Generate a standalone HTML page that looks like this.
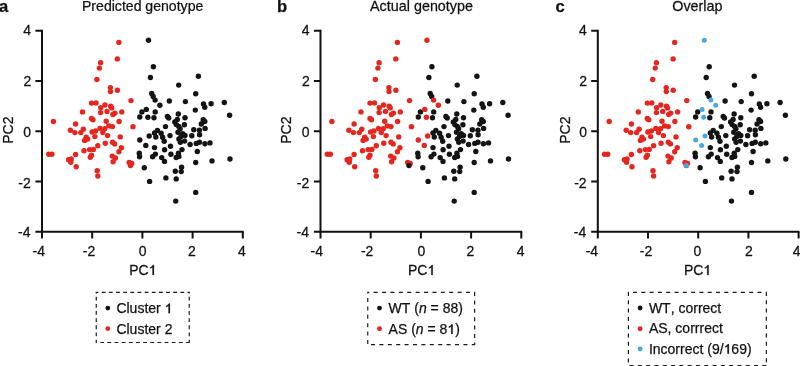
<!DOCTYPE html>
<html><head><meta charset="utf-8"><style>
html,body{margin:0;padding:0;background:#fff;}
body{width:800px;height:366px;overflow:hidden;}
svg{display:block;will-change:transform;}
svg g{font-family:"Liberation Sans",sans-serif;font-size:14px;fill:#111;font-kerning:none;}
text{font-kerning:none;stroke:#111;stroke-width:0.25px;}
</style></head><body>
<svg width="800" height="366" viewBox="0 0 800 366">
<path d="M42.00 29.82V231.68M41.00 231.68H243.70" stroke="#111" stroke-width="2" fill="none"/><path d="M42.00 231.68v6.8M42.00 231.68h-6.6M92.20 231.68v6.8M42.00 181.44h-6.6M142.40 231.68v6.8M42.00 131.20h-6.6M192.60 231.68v6.8M42.00 80.96h-6.6M242.80 231.68v6.8M42.00 30.72h-6.6" stroke="#111" stroke-width="2" fill="none"/><g transform="translate(38.85 255.80) scale(1.0000 1.03)"><text x="-6.33" y="0">-4</text></g><g transform="translate(30.10 237.40) scale(1.0000 1.03)"><text x="-12.04" y="0">-4</text></g><g transform="translate(89.00 255.80) scale(1.0000 1.03)"><text x="-6.18" y="0">-2</text></g><g transform="translate(30.10 187.70) scale(1.0000 1.03)"><text x="-11.74" y="0">-2</text></g><g transform="translate(142.70 255.80) scale(1.0000 1.03)"><text x="-3.89" y="0">0</text></g><g transform="translate(30.60 137.30) scale(1.0000 1.03)"><text x="-7.24" y="0">0</text></g><g transform="translate(192.00 255.80) scale(1.0000 1.03)"><text x="-3.89" y="0">2</text></g><g transform="translate(30.60 85.50) scale(1.0000 1.03)"><text x="-7.08" y="0">2</text></g><g transform="translate(241.90 255.80) scale(1.0000 1.03)"><text x="-3.85" y="0">4</text></g><g transform="translate(30.60 35.40) scale(1.0000 1.03)"><text x="-7.38" y="0">4</text></g><g transform="translate(142.10 274.90) scale(1.0000 1.03)"><text x="-12.91" y="0">PC</text><path transform="translate(6.54 0) scale(0.006836 -0.006570)" stroke="#111" stroke-width="36" d="M775 0L565 0L565 1140Q500 1080 400 1020Q300 960 215 925L215 1105Q365 1175 478 1276Q591 1377 638 1466L775 1466Z"/></g><g transform="translate(13.45 129.90) rotate(-90) scale(1.0000 1.03)"><text x="-13.84" y="0">PC2</text></g><g transform="translate(142.97 10.90) scale(1.0070 1.0)"><text x="-60.58" y="0">Predicted&#160;genotype</text></g><g transform="translate(-1.00 11.80) scale(1.0000 1.0)" style="font-size:16.6px"><text x="0.00" y="0" font-weight="bold">a</text></g><circle cx="118.9" cy="42.4" r="2.7" fill="#e4261f"/><circle cx="117.3" cy="58.9" r="2.7" fill="#e4261f"/><circle cx="100.6" cy="62.7" r="2.7" fill="#e4261f"/><circle cx="99.4" cy="68.1" r="2.7" fill="#e4261f"/><circle cx="96.9" cy="79.5" r="2.7" fill="#e4261f"/><circle cx="110.4" cy="87.6" r="2.7" fill="#e4261f"/><circle cx="110.5" cy="91.6" r="2.7" fill="#e4261f"/><circle cx="117.4" cy="90.3" r="2.7" fill="#e4261f"/><circle cx="131.0" cy="100.6" r="2.7" fill="#e4261f"/><circle cx="91.5" cy="103.1" r="2.7" fill="#e4261f"/><circle cx="96.0" cy="102.9" r="2.7" fill="#e4261f"/><circle cx="105.0" cy="105.0" r="2.7" fill="#e4261f"/><circle cx="100.8" cy="107.7" r="2.7" fill="#e4261f"/><circle cx="110.7" cy="106.3" r="2.7" fill="#e4261f"/><circle cx="111.7" cy="107.9" r="2.7" fill="#e4261f"/><circle cx="82.5" cy="111.9" r="2.7" fill="#e4261f"/><circle cx="100.6" cy="112.6" r="2.7" fill="#e4261f"/><circle cx="107.0" cy="111.4" r="2.7" fill="#e4261f"/><circle cx="114.9" cy="113.1" r="2.7" fill="#e4261f"/><circle cx="112.9" cy="114.5" r="2.7" fill="#e4261f"/><circle cx="121.8" cy="111.9" r="2.7" fill="#e4261f"/><circle cx="53.4" cy="121.5" r="2.7" fill="#e4261f"/><circle cx="91.5" cy="118.4" r="2.7" fill="#e4261f"/><circle cx="93.0" cy="119.7" r="2.7" fill="#e4261f"/><circle cx="106.2" cy="121.3" r="2.7" fill="#e4261f"/><circle cx="119.1" cy="121.5" r="2.7" fill="#e4261f"/><circle cx="75.6" cy="124.0" r="2.7" fill="#e4261f"/><circle cx="133.0" cy="126.8" r="2.7" fill="#e4261f"/><circle cx="108.8" cy="125.9" r="2.7" fill="#e4261f"/><circle cx="112.5" cy="126.6" r="2.7" fill="#e4261f"/><circle cx="100.0" cy="128.4" r="2.7" fill="#e4261f"/><circle cx="104.7" cy="128.8" r="2.7" fill="#e4261f"/><circle cx="102.8" cy="132.6" r="2.7" fill="#e4261f"/><circle cx="70.4" cy="130.3" r="2.7" fill="#e4261f"/><circle cx="74.9" cy="132.6" r="2.7" fill="#e4261f"/><circle cx="83.3" cy="129.3" r="2.7" fill="#e4261f"/><circle cx="80.8" cy="132.6" r="2.7" fill="#e4261f"/><circle cx="92.1" cy="132.0" r="2.7" fill="#e4261f"/><circle cx="95.5" cy="131.0" r="2.7" fill="#e4261f"/><circle cx="94.9" cy="136.6" r="2.7" fill="#e4261f"/><circle cx="107.6" cy="135.6" r="2.7" fill="#e4261f"/><circle cx="120.2" cy="136.9" r="2.7" fill="#e4261f"/><circle cx="86.2" cy="137.2" r="2.7" fill="#e4261f"/><circle cx="87.7" cy="139.1" r="2.7" fill="#e4261f"/><circle cx="84.6" cy="140.4" r="2.7" fill="#e4261f"/><circle cx="97.8" cy="145.7" r="2.7" fill="#e4261f"/><circle cx="105.3" cy="143.3" r="2.7" fill="#e4261f"/><circle cx="112.5" cy="142.3" r="2.7" fill="#e4261f"/><circle cx="114.7" cy="143.9" r="2.7" fill="#e4261f"/><circle cx="121.4" cy="147.7" r="2.7" fill="#e4261f"/><circle cx="118.9" cy="151.7" r="2.7" fill="#e4261f"/><circle cx="84.0" cy="150.7" r="2.7" fill="#e4261f"/><circle cx="89.6" cy="149.6" r="2.7" fill="#e4261f"/><circle cx="93.4" cy="149.4" r="2.7" fill="#e4261f"/><circle cx="48.8" cy="154.2" r="2.7" fill="#e4261f"/><circle cx="51.9" cy="154.2" r="2.7" fill="#e4261f"/><circle cx="75.6" cy="154.5" r="2.7" fill="#e4261f"/><circle cx="91.5" cy="155.2" r="2.7" fill="#e4261f"/><circle cx="90.3" cy="157.3" r="2.7" fill="#e4261f"/><circle cx="112.2" cy="156.1" r="2.7" fill="#e4261f"/><circle cx="115.4" cy="158.0" r="2.7" fill="#e4261f"/><circle cx="68.6" cy="159.7" r="2.7" fill="#e4261f"/><circle cx="71.2" cy="159.0" r="2.7" fill="#e4261f"/><circle cx="70.8" cy="162.2" r="2.7" fill="#e4261f"/><circle cx="76.2" cy="166.8" r="2.7" fill="#e4261f"/><circle cx="97.2" cy="170.7" r="2.7" fill="#e4261f"/><circle cx="97.8" cy="176.0" r="2.7" fill="#e4261f"/><circle cx="113.1" cy="161.8" r="2.7" fill="#e4261f"/><circle cx="129.2" cy="162.5" r="2.7" fill="#e4261f"/><circle cx="131.7" cy="163.4" r="2.7" fill="#e4261f"/><circle cx="130.5" cy="165.6" r="2.7" fill="#e4261f"/><circle cx="153.4" cy="66.7" r="2.7" fill="#141414"/><circle cx="150.4" cy="77.5" r="2.7" fill="#141414"/><circle cx="198.4" cy="76.3" r="2.7" fill="#141414"/><circle cx="178.7" cy="85.1" r="2.7" fill="#141414"/><circle cx="195.7" cy="93.7" r="2.7" fill="#141414"/><circle cx="151.7" cy="93.5" r="2.7" fill="#141414"/><circle cx="153.2" cy="96.4" r="2.7" fill="#141414"/><circle cx="169.3" cy="101.0" r="2.7" fill="#141414"/><circle cx="185.4" cy="101.6" r="2.7" fill="#141414"/><circle cx="203.5" cy="103.9" r="2.7" fill="#141414"/><circle cx="204.8" cy="107.3" r="2.7" fill="#141414"/><circle cx="211.1" cy="103.8" r="2.7" fill="#141414"/><circle cx="224.3" cy="102.5" r="2.7" fill="#141414"/><circle cx="141.9" cy="111.9" r="2.7" fill="#141414"/><circle cx="155.2" cy="111.9" r="2.7" fill="#141414"/><circle cx="195.3" cy="110.1" r="2.7" fill="#141414"/><circle cx="178.3" cy="114.0" r="2.7" fill="#141414"/><circle cx="229.6" cy="115.2" r="2.7" fill="#141414"/><circle cx="139.8" cy="117.0" r="2.7" fill="#141414"/><circle cx="154.0" cy="117.7" r="2.7" fill="#141414"/><circle cx="167.4" cy="116.5" r="2.7" fill="#141414"/><circle cx="168.7" cy="118.0" r="2.7" fill="#141414"/><circle cx="185.0" cy="117.7" r="2.7" fill="#141414"/><circle cx="203.2" cy="119.7" r="2.7" fill="#141414"/><circle cx="204.8" cy="121.5" r="2.7" fill="#141414"/><circle cx="201.3" cy="124.0" r="2.7" fill="#141414"/><circle cx="177.3" cy="119.5" r="2.7" fill="#141414"/><circle cx="174.8" cy="122.0" r="2.7" fill="#141414"/><circle cx="176.3" cy="124.6" r="2.7" fill="#141414"/><circle cx="178.8" cy="126.5" r="2.7" fill="#141414"/><circle cx="180.1" cy="128.8" r="2.7" fill="#141414"/><circle cx="184.4" cy="124.7" r="2.7" fill="#141414"/><circle cx="165.5" cy="126.6" r="2.7" fill="#141414"/><circle cx="193.8" cy="129.7" r="2.7" fill="#141414"/><circle cx="199.4" cy="130.2" r="2.7" fill="#141414"/><circle cx="205.1" cy="128.4" r="2.7" fill="#141414"/><circle cx="157.4" cy="130.4" r="2.7" fill="#141414"/><circle cx="154.5" cy="132.9" r="2.7" fill="#141414"/><circle cx="161.1" cy="133.2" r="2.7" fill="#141414"/><circle cx="155.8" cy="137.0" r="2.7" fill="#141414"/><circle cx="162.6" cy="137.3" r="2.7" fill="#141414"/><circle cx="170.0" cy="135.6" r="2.7" fill="#141414"/><circle cx="178.0" cy="132.2" r="2.7" fill="#141414"/><circle cx="182.7" cy="133.6" r="2.7" fill="#141414"/><circle cx="185.0" cy="135.5" r="2.7" fill="#141414"/><circle cx="181.0" cy="136.4" r="2.7" fill="#141414"/><circle cx="191.8" cy="135.7" r="2.7" fill="#141414"/><circle cx="199.6" cy="134.8" r="2.7" fill="#141414"/><circle cx="164.2" cy="141.3" r="2.7" fill="#141414"/><circle cx="178.9" cy="139.0" r="2.7" fill="#141414"/><circle cx="180.3" cy="142.3" r="2.7" fill="#141414"/><circle cx="184.6" cy="141.1" r="2.7" fill="#141414"/><circle cx="190.1" cy="144.5" r="2.7" fill="#141414"/><circle cx="196.3" cy="143.4" r="2.7" fill="#141414"/><circle cx="199.5" cy="142.2" r="2.7" fill="#141414"/><circle cx="204.9" cy="143.7" r="2.7" fill="#141414"/><circle cx="210.0" cy="142.9" r="2.7" fill="#141414"/><circle cx="154.5" cy="147.6" r="2.7" fill="#141414"/><circle cx="170.5" cy="146.2" r="2.7" fill="#141414"/><circle cx="164.6" cy="149.8" r="2.7" fill="#141414"/><circle cx="182.0" cy="149.6" r="2.7" fill="#141414"/><circle cx="197.3" cy="151.5" r="2.7" fill="#141414"/><circle cx="139.3" cy="153.3" r="2.7" fill="#141414"/><circle cx="139.6" cy="156.8" r="2.7" fill="#141414"/><circle cx="155.4" cy="154.1" r="2.7" fill="#141414"/><circle cx="152.6" cy="156.7" r="2.7" fill="#141414"/><circle cx="170.9" cy="154.2" r="2.7" fill="#141414"/><circle cx="178.4" cy="153.3" r="2.7" fill="#141414"/><circle cx="178.9" cy="156.4" r="2.7" fill="#141414"/><circle cx="176.2" cy="157.5" r="2.7" fill="#141414"/><circle cx="161.7" cy="157.6" r="2.7" fill="#141414"/><circle cx="212.0" cy="160.9" r="2.7" fill="#141414"/><circle cx="230.0" cy="159.0" r="2.7" fill="#141414"/><circle cx="164.5" cy="161.4" r="2.7" fill="#141414"/><circle cx="195.7" cy="162.5" r="2.7" fill="#141414"/><circle cx="144.3" cy="167.7" r="2.7" fill="#141414"/><circle cx="181.6" cy="167.3" r="2.7" fill="#141414"/><circle cx="181.2" cy="171.6" r="2.7" fill="#141414"/><circle cx="175.3" cy="171.2" r="2.7" fill="#141414"/><circle cx="165.9" cy="177.9" r="2.7" fill="#141414"/><circle cx="176.2" cy="178.9" r="2.7" fill="#141414"/><circle cx="149.6" cy="181.4" r="2.7" fill="#141414"/><circle cx="195.7" cy="192.4" r="2.7" fill="#141414"/><circle cx="175.7" cy="201.1" r="2.7" fill="#141414"/><circle cx="148.5" cy="40.3" r="2.7" fill="#141414"/><circle cx="155.1" cy="100.1" r="2.7" fill="#141414"/><circle cx="159.9" cy="105.2" r="2.7" fill="#141414"/><circle cx="146.3" cy="109.4" r="2.7" fill="#141414"/><circle cx="147.9" cy="117.3" r="2.7" fill="#141414"/><circle cx="149.2" cy="136.0" r="2.7" fill="#141414"/><circle cx="139.8" cy="140.0" r="2.7" fill="#141414"/><circle cx="145.8" cy="145.4" r="2.7" fill="#141414"/><path d="M320.50 29.82V231.68M319.50 231.68H522.20" stroke="#111" stroke-width="2" fill="none"/><path d="M320.50 231.68v6.8M320.50 231.68h-6.6M370.70 231.68v6.8M320.50 181.44h-6.6M420.90 231.68v6.8M320.50 131.20h-6.6M471.10 231.68v6.8M320.50 80.96h-6.6M521.30 231.68v6.8M320.50 30.72h-6.6" stroke="#111" stroke-width="2" fill="none"/><g transform="translate(316.80 255.80) scale(1.0000 1.03)"><text x="-6.33" y="0">-4</text></g><g transform="translate(308.60 237.40) scale(1.0000 1.03)"><text x="-12.04" y="0">-4</text></g><g transform="translate(367.10 255.80) scale(1.0000 1.03)"><text x="-6.18" y="0">-2</text></g><g transform="translate(308.60 187.70) scale(1.0000 1.03)"><text x="-11.74" y="0">-2</text></g><g transform="translate(421.30 255.80) scale(1.0000 1.03)"><text x="-3.89" y="0">0</text></g><g transform="translate(309.10 137.30) scale(1.0000 1.03)"><text x="-7.24" y="0">0</text></g><g transform="translate(470.40 255.80) scale(1.0000 1.03)"><text x="-3.89" y="0">2</text></g><g transform="translate(309.10 85.50) scale(1.0000 1.03)"><text x="-7.08" y="0">2</text></g><g transform="translate(520.50 255.80) scale(1.0000 1.03)"><text x="-3.85" y="0">4</text></g><g transform="translate(309.10 35.40) scale(1.0000 1.03)"><text x="-7.38" y="0">4</text></g><g transform="translate(420.90 274.90) scale(1.0000 1.03)"><text x="-12.91" y="0">PC</text><path transform="translate(6.54 0) scale(0.006836 -0.006570)" stroke="#111" stroke-width="36" d="M775 0L565 0L565 1140Q500 1080 400 1020Q300 960 215 925L215 1105Q365 1175 478 1276Q591 1377 638 1466L775 1466Z"/></g><g transform="translate(290.80 129.90) rotate(-90) scale(1.0000 1.03)"><text x="-13.84" y="0">PC2</text></g><g transform="translate(421.25 10.90) scale(1.0265 1.0)"><text x="-49.91" y="0">Actual&#160;genotype</text></g><g transform="translate(277.10 11.80) scale(1.0000 1.0)" style="font-size:16.6px"><text x="0.00" y="0" font-weight="bold">b</text></g><circle cx="397.4" cy="42.4" r="2.7" fill="#e4261f"/><circle cx="395.8" cy="58.9" r="2.7" fill="#e4261f"/><circle cx="379.1" cy="62.7" r="2.7" fill="#e4261f"/><circle cx="377.9" cy="68.1" r="2.7" fill="#e4261f"/><circle cx="375.4" cy="79.5" r="2.7" fill="#e4261f"/><circle cx="388.9" cy="87.6" r="2.7" fill="#e4261f"/><circle cx="389.0" cy="91.6" r="2.7" fill="#e4261f"/><circle cx="395.9" cy="90.3" r="2.7" fill="#e4261f"/><circle cx="409.5" cy="100.6" r="2.7" fill="#e4261f"/><circle cx="370.0" cy="103.1" r="2.7" fill="#e4261f"/><circle cx="374.5" cy="102.9" r="2.7" fill="#e4261f"/><circle cx="383.5" cy="105.0" r="2.7" fill="#e4261f"/><circle cx="379.3" cy="107.7" r="2.7" fill="#e4261f"/><circle cx="389.2" cy="106.3" r="2.7" fill="#e4261f"/><circle cx="390.2" cy="107.9" r="2.7" fill="#e4261f"/><circle cx="361.0" cy="111.9" r="2.7" fill="#e4261f"/><circle cx="379.1" cy="112.6" r="2.7" fill="#e4261f"/><circle cx="385.5" cy="111.4" r="2.7" fill="#e4261f"/><circle cx="393.4" cy="113.1" r="2.7" fill="#e4261f"/><circle cx="391.4" cy="114.5" r="2.7" fill="#e4261f"/><circle cx="400.3" cy="111.9" r="2.7" fill="#e4261f"/><circle cx="331.9" cy="121.5" r="2.7" fill="#e4261f"/><circle cx="370.0" cy="118.4" r="2.7" fill="#e4261f"/><circle cx="371.5" cy="119.7" r="2.7" fill="#e4261f"/><circle cx="384.7" cy="121.3" r="2.7" fill="#e4261f"/><circle cx="397.6" cy="121.5" r="2.7" fill="#e4261f"/><circle cx="354.1" cy="124.0" r="2.7" fill="#e4261f"/><circle cx="411.5" cy="126.8" r="2.7" fill="#e4261f"/><circle cx="387.3" cy="125.9" r="2.7" fill="#e4261f"/><circle cx="391.0" cy="126.6" r="2.7" fill="#e4261f"/><circle cx="378.5" cy="128.4" r="2.7" fill="#e4261f"/><circle cx="383.2" cy="128.8" r="2.7" fill="#e4261f"/><circle cx="381.3" cy="132.6" r="2.7" fill="#e4261f"/><circle cx="348.9" cy="130.3" r="2.7" fill="#e4261f"/><circle cx="353.4" cy="132.6" r="2.7" fill="#e4261f"/><circle cx="361.8" cy="129.3" r="2.7" fill="#e4261f"/><circle cx="359.3" cy="132.6" r="2.7" fill="#e4261f"/><circle cx="370.6" cy="132.0" r="2.7" fill="#e4261f"/><circle cx="374.0" cy="131.0" r="2.7" fill="#e4261f"/><circle cx="373.4" cy="136.6" r="2.7" fill="#e4261f"/><circle cx="386.1" cy="135.6" r="2.7" fill="#e4261f"/><circle cx="398.7" cy="136.9" r="2.7" fill="#e4261f"/><circle cx="364.7" cy="137.2" r="2.7" fill="#e4261f"/><circle cx="366.2" cy="139.1" r="2.7" fill="#e4261f"/><circle cx="363.1" cy="140.4" r="2.7" fill="#e4261f"/><circle cx="376.3" cy="145.7" r="2.7" fill="#e4261f"/><circle cx="383.8" cy="143.3" r="2.7" fill="#e4261f"/><circle cx="391.0" cy="142.3" r="2.7" fill="#e4261f"/><circle cx="393.2" cy="143.9" r="2.7" fill="#e4261f"/><circle cx="399.9" cy="147.7" r="2.7" fill="#e4261f"/><circle cx="397.4" cy="151.7" r="2.7" fill="#e4261f"/><circle cx="362.5" cy="150.7" r="2.7" fill="#e4261f"/><circle cx="368.1" cy="149.6" r="2.7" fill="#e4261f"/><circle cx="371.9" cy="149.4" r="2.7" fill="#e4261f"/><circle cx="327.3" cy="154.2" r="2.7" fill="#e4261f"/><circle cx="330.4" cy="154.2" r="2.7" fill="#e4261f"/><circle cx="354.1" cy="154.5" r="2.7" fill="#e4261f"/><circle cx="370.0" cy="155.2" r="2.7" fill="#e4261f"/><circle cx="368.8" cy="157.3" r="2.7" fill="#e4261f"/><circle cx="390.7" cy="156.1" r="2.7" fill="#e4261f"/><circle cx="393.9" cy="158.0" r="2.7" fill="#e4261f"/><circle cx="347.1" cy="159.7" r="2.7" fill="#e4261f"/><circle cx="349.7" cy="159.0" r="2.7" fill="#e4261f"/><circle cx="349.3" cy="162.2" r="2.7" fill="#e4261f"/><circle cx="354.7" cy="166.8" r="2.7" fill="#e4261f"/><circle cx="375.7" cy="170.7" r="2.7" fill="#e4261f"/><circle cx="376.3" cy="176.0" r="2.7" fill="#e4261f"/><circle cx="391.6" cy="161.8" r="2.7" fill="#e4261f"/><circle cx="407.7" cy="162.5" r="2.7" fill="#e4261f"/><circle cx="410.2" cy="163.4" r="2.7" fill="#e4261f"/><circle cx="431.9" cy="66.7" r="2.7" fill="#141414"/><circle cx="428.9" cy="77.5" r="2.7" fill="#141414"/><circle cx="476.9" cy="76.3" r="2.7" fill="#141414"/><circle cx="457.2" cy="85.1" r="2.7" fill="#141414"/><circle cx="474.2" cy="93.7" r="2.7" fill="#141414"/><circle cx="430.2" cy="93.5" r="2.7" fill="#141414"/><circle cx="431.7" cy="96.4" r="2.7" fill="#141414"/><circle cx="447.8" cy="101.0" r="2.7" fill="#141414"/><circle cx="463.9" cy="101.6" r="2.7" fill="#141414"/><circle cx="482.0" cy="103.9" r="2.7" fill="#141414"/><circle cx="483.3" cy="107.3" r="2.7" fill="#141414"/><circle cx="489.6" cy="103.8" r="2.7" fill="#141414"/><circle cx="502.8" cy="102.5" r="2.7" fill="#141414"/><circle cx="420.4" cy="111.9" r="2.7" fill="#141414"/><circle cx="433.7" cy="111.9" r="2.7" fill="#141414"/><circle cx="473.8" cy="110.1" r="2.7" fill="#141414"/><circle cx="456.8" cy="114.0" r="2.7" fill="#141414"/><circle cx="508.1" cy="115.2" r="2.7" fill="#141414"/><circle cx="418.3" cy="117.0" r="2.7" fill="#141414"/><circle cx="432.5" cy="117.7" r="2.7" fill="#141414"/><circle cx="445.9" cy="116.5" r="2.7" fill="#141414"/><circle cx="447.2" cy="118.0" r="2.7" fill="#141414"/><circle cx="463.5" cy="117.7" r="2.7" fill="#141414"/><circle cx="481.7" cy="119.7" r="2.7" fill="#141414"/><circle cx="483.3" cy="121.5" r="2.7" fill="#141414"/><circle cx="479.8" cy="124.0" r="2.7" fill="#141414"/><circle cx="455.8" cy="119.5" r="2.7" fill="#141414"/><circle cx="453.3" cy="122.0" r="2.7" fill="#141414"/><circle cx="454.8" cy="124.6" r="2.7" fill="#141414"/><circle cx="457.3" cy="126.5" r="2.7" fill="#141414"/><circle cx="458.6" cy="128.8" r="2.7" fill="#141414"/><circle cx="462.9" cy="124.7" r="2.7" fill="#141414"/><circle cx="444.0" cy="126.6" r="2.7" fill="#141414"/><circle cx="472.3" cy="129.7" r="2.7" fill="#141414"/><circle cx="477.9" cy="130.2" r="2.7" fill="#141414"/><circle cx="483.6" cy="128.4" r="2.7" fill="#141414"/><circle cx="435.9" cy="130.4" r="2.7" fill="#141414"/><circle cx="433.0" cy="132.9" r="2.7" fill="#141414"/><circle cx="439.6" cy="133.2" r="2.7" fill="#141414"/><circle cx="434.3" cy="137.0" r="2.7" fill="#141414"/><circle cx="441.1" cy="137.3" r="2.7" fill="#141414"/><circle cx="448.5" cy="135.6" r="2.7" fill="#141414"/><circle cx="456.5" cy="132.2" r="2.7" fill="#141414"/><circle cx="461.2" cy="133.6" r="2.7" fill="#141414"/><circle cx="463.5" cy="135.5" r="2.7" fill="#141414"/><circle cx="459.5" cy="136.4" r="2.7" fill="#141414"/><circle cx="470.3" cy="135.7" r="2.7" fill="#141414"/><circle cx="478.1" cy="134.8" r="2.7" fill="#141414"/><circle cx="442.7" cy="141.3" r="2.7" fill="#141414"/><circle cx="457.4" cy="139.0" r="2.7" fill="#141414"/><circle cx="458.8" cy="142.3" r="2.7" fill="#141414"/><circle cx="463.1" cy="141.1" r="2.7" fill="#141414"/><circle cx="468.6" cy="144.5" r="2.7" fill="#141414"/><circle cx="474.8" cy="143.4" r="2.7" fill="#141414"/><circle cx="478.0" cy="142.2" r="2.7" fill="#141414"/><circle cx="483.4" cy="143.7" r="2.7" fill="#141414"/><circle cx="488.5" cy="142.9" r="2.7" fill="#141414"/><circle cx="433.0" cy="147.6" r="2.7" fill="#141414"/><circle cx="449.0" cy="146.2" r="2.7" fill="#141414"/><circle cx="443.1" cy="149.8" r="2.7" fill="#141414"/><circle cx="460.5" cy="149.6" r="2.7" fill="#141414"/><circle cx="475.8" cy="151.5" r="2.7" fill="#141414"/><circle cx="417.8" cy="153.3" r="2.7" fill="#141414"/><circle cx="418.1" cy="156.8" r="2.7" fill="#141414"/><circle cx="433.9" cy="154.1" r="2.7" fill="#141414"/><circle cx="431.1" cy="156.7" r="2.7" fill="#141414"/><circle cx="449.4" cy="154.2" r="2.7" fill="#141414"/><circle cx="456.9" cy="153.3" r="2.7" fill="#141414"/><circle cx="457.4" cy="156.4" r="2.7" fill="#141414"/><circle cx="454.7" cy="157.5" r="2.7" fill="#141414"/><circle cx="440.2" cy="157.6" r="2.7" fill="#141414"/><circle cx="490.5" cy="160.9" r="2.7" fill="#141414"/><circle cx="508.5" cy="159.0" r="2.7" fill="#141414"/><circle cx="443.0" cy="161.4" r="2.7" fill="#141414"/><circle cx="474.2" cy="162.5" r="2.7" fill="#141414"/><circle cx="422.8" cy="167.7" r="2.7" fill="#141414"/><circle cx="460.1" cy="167.3" r="2.7" fill="#141414"/><circle cx="459.7" cy="171.6" r="2.7" fill="#141414"/><circle cx="453.8" cy="171.2" r="2.7" fill="#141414"/><circle cx="444.4" cy="177.9" r="2.7" fill="#141414"/><circle cx="454.7" cy="178.9" r="2.7" fill="#141414"/><circle cx="428.1" cy="181.4" r="2.7" fill="#141414"/><circle cx="474.2" cy="192.4" r="2.7" fill="#141414"/><circle cx="454.2" cy="201.1" r="2.7" fill="#141414"/><circle cx="427.0" cy="40.3" r="2.7" fill="#e4261f"/><circle cx="433.6" cy="100.1" r="2.7" fill="#e4261f"/><circle cx="438.4" cy="105.2" r="2.7" fill="#e4261f"/><circle cx="424.8" cy="109.4" r="2.7" fill="#e4261f"/><circle cx="426.4" cy="117.3" r="2.7" fill="#e4261f"/><circle cx="427.7" cy="136.0" r="2.7" fill="#e4261f"/><circle cx="418.3" cy="140.0" r="2.7" fill="#e4261f"/><circle cx="424.3" cy="145.4" r="2.7" fill="#e4261f"/><circle cx="409.0" cy="165.6" r="2.7" fill="#141414"/><path d="M597.80 29.82V231.68M596.80 231.68H799.50" stroke="#111" stroke-width="2" fill="none"/><path d="M597.80 231.68v6.8M597.80 231.68h-6.6M648.00 231.68v6.8M597.80 181.44h-6.6M698.20 231.68v6.8M597.80 131.20h-6.6M748.40 231.68v6.8M597.80 80.96h-6.6M798.60 231.68v6.8M597.80 30.72h-6.6" stroke="#111" stroke-width="2" fill="none"/><g transform="translate(592.00 255.80) scale(1.0000 1.03)"><text x="-6.33" y="0">-4</text></g><g transform="translate(585.90 237.40) scale(1.0000 1.03)"><text x="-12.04" y="0">-4</text></g><g transform="translate(646.00 255.80) scale(1.0000 1.03)"><text x="-6.18" y="0">-2</text></g><g transform="translate(585.90 187.70) scale(1.0000 1.03)"><text x="-11.74" y="0">-2</text></g><g transform="translate(697.40 255.80) scale(1.0000 1.03)"><text x="-3.89" y="0">0</text></g><g transform="translate(586.40 137.30) scale(1.0000 1.03)"><text x="-7.24" y="0">0</text></g><g transform="translate(748.80 255.80) scale(1.0000 1.03)"><text x="-3.89" y="0">2</text></g><g transform="translate(586.40 85.50) scale(1.0000 1.03)"><text x="-7.08" y="0">2</text></g><g transform="translate(796.60 255.80) scale(1.0000 1.03)"><text x="-3.85" y="0">4</text></g><g transform="translate(586.40 35.40) scale(1.0000 1.03)"><text x="-7.38" y="0">4</text></g><g transform="translate(696.80 274.90) scale(1.0000 1.03)"><text x="-12.91" y="0">PC</text><path transform="translate(6.54 0) scale(0.006836 -0.006570)" stroke="#111" stroke-width="36" d="M775 0L565 0L565 1140Q500 1080 400 1020Q300 960 215 925L215 1105Q365 1175 478 1276Q591 1377 638 1466L775 1466Z"/></g><g transform="translate(569.65 129.90) rotate(-90) scale(1.0000 1.03)"><text x="-13.84" y="0">PC2</text></g><g transform="translate(697.40 10.90) scale(1.0258 1.0)"><text x="-24.55" y="0">Overlap</text></g><g transform="translate(555.40 11.80) scale(1.0000 1.0)" style="font-size:16.6px"><text x="0.00" y="0" font-weight="bold">c</text></g><circle cx="674.7" cy="42.4" r="2.7" fill="#e4261f"/><circle cx="673.1" cy="58.9" r="2.7" fill="#e4261f"/><circle cx="656.4" cy="62.7" r="2.7" fill="#e4261f"/><circle cx="655.2" cy="68.1" r="2.7" fill="#e4261f"/><circle cx="652.7" cy="79.5" r="2.7" fill="#e4261f"/><circle cx="666.2" cy="87.6" r="2.7" fill="#e4261f"/><circle cx="666.3" cy="91.6" r="2.7" fill="#e4261f"/><circle cx="673.2" cy="90.3" r="2.7" fill="#e4261f"/><circle cx="686.8" cy="100.6" r="2.7" fill="#e4261f"/><circle cx="647.3" cy="103.1" r="2.7" fill="#e4261f"/><circle cx="651.8" cy="102.9" r="2.7" fill="#e4261f"/><circle cx="660.8" cy="105.0" r="2.7" fill="#e4261f"/><circle cx="656.6" cy="107.7" r="2.7" fill="#e4261f"/><circle cx="666.5" cy="106.3" r="2.7" fill="#e4261f"/><circle cx="667.5" cy="107.9" r="2.7" fill="#e4261f"/><circle cx="638.3" cy="111.9" r="2.7" fill="#e4261f"/><circle cx="656.4" cy="112.6" r="2.7" fill="#e4261f"/><circle cx="662.8" cy="111.4" r="2.7" fill="#e4261f"/><circle cx="670.7" cy="113.1" r="2.7" fill="#e4261f"/><circle cx="668.7" cy="114.5" r="2.7" fill="#e4261f"/><circle cx="677.6" cy="111.9" r="2.7" fill="#e4261f"/><circle cx="609.2" cy="121.5" r="2.7" fill="#e4261f"/><circle cx="647.3" cy="118.4" r="2.7" fill="#e4261f"/><circle cx="648.8" cy="119.7" r="2.7" fill="#e4261f"/><circle cx="662.0" cy="121.3" r="2.7" fill="#e4261f"/><circle cx="674.9" cy="121.5" r="2.7" fill="#e4261f"/><circle cx="631.4" cy="124.0" r="2.7" fill="#e4261f"/><circle cx="688.8" cy="126.8" r="2.7" fill="#e4261f"/><circle cx="664.6" cy="125.9" r="2.7" fill="#e4261f"/><circle cx="668.3" cy="126.6" r="2.7" fill="#e4261f"/><circle cx="655.8" cy="128.4" r="2.7" fill="#e4261f"/><circle cx="660.5" cy="128.8" r="2.7" fill="#e4261f"/><circle cx="658.6" cy="132.6" r="2.7" fill="#e4261f"/><circle cx="626.2" cy="130.3" r="2.7" fill="#e4261f"/><circle cx="630.7" cy="132.6" r="2.7" fill="#e4261f"/><circle cx="639.1" cy="129.3" r="2.7" fill="#e4261f"/><circle cx="636.6" cy="132.6" r="2.7" fill="#e4261f"/><circle cx="647.9" cy="132.0" r="2.7" fill="#e4261f"/><circle cx="651.3" cy="131.0" r="2.7" fill="#e4261f"/><circle cx="650.7" cy="136.6" r="2.7" fill="#e4261f"/><circle cx="663.4" cy="135.6" r="2.7" fill="#e4261f"/><circle cx="676.0" cy="136.9" r="2.7" fill="#e4261f"/><circle cx="642.0" cy="137.2" r="2.7" fill="#e4261f"/><circle cx="643.5" cy="139.1" r="2.7" fill="#e4261f"/><circle cx="640.4" cy="140.4" r="2.7" fill="#e4261f"/><circle cx="653.6" cy="145.7" r="2.7" fill="#e4261f"/><circle cx="661.1" cy="143.3" r="2.7" fill="#e4261f"/><circle cx="668.3" cy="142.3" r="2.7" fill="#e4261f"/><circle cx="670.5" cy="143.9" r="2.7" fill="#e4261f"/><circle cx="677.2" cy="147.7" r="2.7" fill="#e4261f"/><circle cx="674.7" cy="151.7" r="2.7" fill="#e4261f"/><circle cx="639.8" cy="150.7" r="2.7" fill="#e4261f"/><circle cx="645.4" cy="149.6" r="2.7" fill="#e4261f"/><circle cx="649.2" cy="149.4" r="2.7" fill="#e4261f"/><circle cx="604.6" cy="154.2" r="2.7" fill="#e4261f"/><circle cx="607.7" cy="154.2" r="2.7" fill="#e4261f"/><circle cx="631.4" cy="154.5" r="2.7" fill="#e4261f"/><circle cx="647.3" cy="155.2" r="2.7" fill="#e4261f"/><circle cx="646.1" cy="157.3" r="2.7" fill="#e4261f"/><circle cx="668.0" cy="156.1" r="2.7" fill="#e4261f"/><circle cx="671.2" cy="158.0" r="2.7" fill="#e4261f"/><circle cx="624.4" cy="159.7" r="2.7" fill="#e4261f"/><circle cx="627.0" cy="159.0" r="2.7" fill="#e4261f"/><circle cx="626.6" cy="162.2" r="2.7" fill="#e4261f"/><circle cx="632.0" cy="166.8" r="2.7" fill="#e4261f"/><circle cx="653.0" cy="170.7" r="2.7" fill="#e4261f"/><circle cx="653.6" cy="176.0" r="2.7" fill="#e4261f"/><circle cx="668.9" cy="161.8" r="2.7" fill="#e4261f"/><circle cx="685.0" cy="162.5" r="2.7" fill="#e4261f"/><circle cx="687.5" cy="163.4" r="2.7" fill="#e4261f"/><circle cx="686.3" cy="165.6" r="2.7" fill="#e4261f"/><circle cx="709.2" cy="66.7" r="2.7" fill="#141414"/><circle cx="706.2" cy="77.5" r="2.7" fill="#141414"/><circle cx="754.2" cy="76.3" r="2.7" fill="#141414"/><circle cx="734.5" cy="85.1" r="2.7" fill="#141414"/><circle cx="751.5" cy="93.7" r="2.7" fill="#141414"/><circle cx="707.5" cy="93.5" r="2.7" fill="#141414"/><circle cx="709.0" cy="96.4" r="2.7" fill="#141414"/><circle cx="725.1" cy="101.0" r="2.7" fill="#141414"/><circle cx="741.2" cy="101.6" r="2.7" fill="#141414"/><circle cx="759.3" cy="103.9" r="2.7" fill="#141414"/><circle cx="760.6" cy="107.3" r="2.7" fill="#141414"/><circle cx="766.9" cy="103.8" r="2.7" fill="#141414"/><circle cx="780.1" cy="102.5" r="2.7" fill="#141414"/><circle cx="697.7" cy="111.9" r="2.7" fill="#141414"/><circle cx="711.0" cy="111.9" r="2.7" fill="#141414"/><circle cx="751.1" cy="110.1" r="2.7" fill="#141414"/><circle cx="734.1" cy="114.0" r="2.7" fill="#141414"/><circle cx="785.4" cy="115.2" r="2.7" fill="#141414"/><circle cx="695.6" cy="117.0" r="2.7" fill="#141414"/><circle cx="709.8" cy="117.7" r="2.7" fill="#141414"/><circle cx="723.2" cy="116.5" r="2.7" fill="#141414"/><circle cx="724.5" cy="118.0" r="2.7" fill="#141414"/><circle cx="740.8" cy="117.7" r="2.7" fill="#141414"/><circle cx="759.0" cy="119.7" r="2.7" fill="#141414"/><circle cx="760.6" cy="121.5" r="2.7" fill="#141414"/><circle cx="757.1" cy="124.0" r="2.7" fill="#141414"/><circle cx="733.1" cy="119.5" r="2.7" fill="#141414"/><circle cx="730.6" cy="122.0" r="2.7" fill="#141414"/><circle cx="732.1" cy="124.6" r="2.7" fill="#141414"/><circle cx="734.6" cy="126.5" r="2.7" fill="#141414"/><circle cx="735.9" cy="128.8" r="2.7" fill="#141414"/><circle cx="740.2" cy="124.7" r="2.7" fill="#141414"/><circle cx="721.3" cy="126.6" r="2.7" fill="#141414"/><circle cx="749.6" cy="129.7" r="2.7" fill="#141414"/><circle cx="755.2" cy="130.2" r="2.7" fill="#141414"/><circle cx="760.9" cy="128.4" r="2.7" fill="#141414"/><circle cx="713.2" cy="130.4" r="2.7" fill="#141414"/><circle cx="710.3" cy="132.9" r="2.7" fill="#141414"/><circle cx="716.9" cy="133.2" r="2.7" fill="#141414"/><circle cx="711.6" cy="137.0" r="2.7" fill="#141414"/><circle cx="718.4" cy="137.3" r="2.7" fill="#141414"/><circle cx="725.8" cy="135.6" r="2.7" fill="#141414"/><circle cx="733.8" cy="132.2" r="2.7" fill="#141414"/><circle cx="738.5" cy="133.6" r="2.7" fill="#141414"/><circle cx="740.8" cy="135.5" r="2.7" fill="#141414"/><circle cx="736.8" cy="136.4" r="2.7" fill="#141414"/><circle cx="747.6" cy="135.7" r="2.7" fill="#141414"/><circle cx="755.4" cy="134.8" r="2.7" fill="#141414"/><circle cx="720.0" cy="141.3" r="2.7" fill="#141414"/><circle cx="734.7" cy="139.0" r="2.7" fill="#141414"/><circle cx="736.1" cy="142.3" r="2.7" fill="#141414"/><circle cx="740.4" cy="141.1" r="2.7" fill="#141414"/><circle cx="745.9" cy="144.5" r="2.7" fill="#141414"/><circle cx="752.1" cy="143.4" r="2.7" fill="#141414"/><circle cx="755.3" cy="142.2" r="2.7" fill="#141414"/><circle cx="760.7" cy="143.7" r="2.7" fill="#141414"/><circle cx="765.8" cy="142.9" r="2.7" fill="#141414"/><circle cx="710.3" cy="147.6" r="2.7" fill="#141414"/><circle cx="726.3" cy="146.2" r="2.7" fill="#141414"/><circle cx="720.4" cy="149.8" r="2.7" fill="#141414"/><circle cx="737.8" cy="149.6" r="2.7" fill="#141414"/><circle cx="753.1" cy="151.5" r="2.7" fill="#141414"/><circle cx="695.1" cy="153.3" r="2.7" fill="#141414"/><circle cx="695.4" cy="156.8" r="2.7" fill="#141414"/><circle cx="711.2" cy="154.1" r="2.7" fill="#141414"/><circle cx="708.4" cy="156.7" r="2.7" fill="#141414"/><circle cx="726.7" cy="154.2" r="2.7" fill="#141414"/><circle cx="734.2" cy="153.3" r="2.7" fill="#141414"/><circle cx="734.7" cy="156.4" r="2.7" fill="#141414"/><circle cx="732.0" cy="157.5" r="2.7" fill="#141414"/><circle cx="717.5" cy="157.6" r="2.7" fill="#141414"/><circle cx="767.8" cy="160.9" r="2.7" fill="#141414"/><circle cx="785.8" cy="159.0" r="2.7" fill="#141414"/><circle cx="720.3" cy="161.4" r="2.7" fill="#141414"/><circle cx="751.5" cy="162.5" r="2.7" fill="#141414"/><circle cx="700.1" cy="167.7" r="2.7" fill="#141414"/><circle cx="737.4" cy="167.3" r="2.7" fill="#141414"/><circle cx="737.0" cy="171.6" r="2.7" fill="#141414"/><circle cx="731.1" cy="171.2" r="2.7" fill="#141414"/><circle cx="721.7" cy="177.9" r="2.7" fill="#141414"/><circle cx="732.0" cy="178.9" r="2.7" fill="#141414"/><circle cx="705.4" cy="181.4" r="2.7" fill="#141414"/><circle cx="751.5" cy="192.4" r="2.7" fill="#141414"/><circle cx="731.5" cy="201.1" r="2.7" fill="#141414"/><circle cx="704.3" cy="40.3" r="2.5" fill="#4ba8de"/><circle cx="710.9" cy="100.1" r="2.5" fill="#4ba8de"/><circle cx="715.7" cy="105.2" r="2.5" fill="#4ba8de"/><circle cx="702.1" cy="109.4" r="2.5" fill="#4ba8de"/><circle cx="703.7" cy="117.3" r="2.5" fill="#4ba8de"/><circle cx="705.0" cy="136.0" r="2.5" fill="#4ba8de"/><circle cx="695.6" cy="140.0" r="2.5" fill="#4ba8de"/><circle cx="701.6" cy="145.4" r="2.5" fill="#4ba8de"/><circle cx="686.3" cy="165.6" r="2.5" fill="#4ba8de"/>
<path d="M95.65 292.45H98.40M101.75 292.45H105.55M108.90 292.45H112.70M116.05 292.45H119.85M123.20 292.45H127.00M130.35 292.45H134.15M137.50 292.45H141.30M144.65 292.45H148.45M151.80 292.45H155.60M158.95 292.45H162.75M166.10 292.45H169.90M173.25 292.45H177.05M180.40 292.45H184.20M187.55 292.45H189.85M95.65 342.50H96.90M100.25 342.50H104.05M107.40 342.50H111.20M114.55 342.50H118.35M121.70 342.50H125.50M128.85 342.50H132.65M136.00 342.50H139.80M143.15 342.50H146.95M150.30 342.50H154.10M157.45 342.50H161.25M164.60 342.50H168.40M171.75 342.50H175.55M178.90 342.50H182.70M186.05 342.50H189.85M96.25 291.85V293.40M96.25 296.75V300.55M96.25 303.90V307.70M96.25 311.05V314.85M96.25 318.20V322.00M96.25 325.35V329.15M96.25 332.50V336.30M96.25 339.65V343.10M189.25 291.85V293.40M189.25 296.75V300.55M189.25 303.90V307.70M189.25 311.05V314.85M189.25 318.20V322.00M189.25 325.35V329.15M189.25 332.50V336.30M189.25 339.65V343.10" stroke="#1a1a1a" stroke-width="1.2" fill="none"/><circle cx="107.8" cy="308.1" r="2.45" fill="#141414"/><circle cx="107.8" cy="328.6" r="2.45" fill="#e4261f"/><g transform="translate(116.40 313.20) scale(1.0000 1.0)"><text x="0.00" y="0">Cluster&#160;</text><path transform="translate(48.23 0) scale(0.006836 -0.006570)" stroke="#111" stroke-width="36" d="M775 0L565 0L565 1140Q500 1080 400 1020Q300 960 215 925L215 1105Q365 1175 478 1276Q591 1377 638 1466L775 1466Z"/></g><g transform="translate(116.40 333.90) scale(1.0000 1.0)"><text x="0.00" y="0">Cluster&#160;2</text></g><path d="M367.15 292.35H369.25M373.65 292.35H377.65M382.05 292.35H386.05M390.45 292.35H394.45M398.85 292.35H402.85M407.25 292.35H411.25M415.65 292.35H419.65M424.05 292.35H428.05M432.45 292.35H436.45M440.85 292.35H444.85M449.25 292.35H453.25M457.65 292.35H461.65M466.05 292.35H470.05M474.45 292.35H475.25M371.00 344.65H375.00M379.40 344.65H383.40M387.80 344.65H391.80M396.20 344.65H400.20M404.60 344.65H408.60M413.00 344.65H417.00M421.40 344.65H425.40M429.80 344.65H433.80M438.20 344.65H442.20M446.60 344.65H450.60M455.00 344.65H459.00M463.40 344.65H467.40M471.80 344.65H475.25M367.75 291.75V293.60M367.75 298.00V302.00M367.75 306.40V310.40M367.75 314.80V318.80M367.75 323.20V327.20M367.75 331.60V335.60M367.75 340.00V344.00M474.65 292.00V296.00M474.65 300.40V304.40M474.65 308.80V312.80M474.65 317.20V321.20M474.65 325.60V329.60M474.65 334.00V338.00M474.65 342.40V345.25" stroke="#1a1a1a" stroke-width="1.2" fill="none"/><circle cx="379.5" cy="308.1" r="2.45" fill="#141414"/><circle cx="379.5" cy="328.7" r="2.45" fill="#e4261f"/><g transform="translate(388.60 313.20) scale(1.0000 1.0)"><text x="0.00" y="0">WT&#160;(</text><text x="30.32" y="0" font-style="italic">n</text><text x="38.10" y="0">&#160;=&#160;88)</text></g><g transform="translate(388.60 333.90) scale(1.0000 1.0)"><text x="0.00" y="0">AS&#160;(</text><text x="27.23" y="0" font-style="italic">n</text><text x="35.01" y="0">&#160;=&#160;8</text><path transform="translate(58.75 0) scale(0.006836 -0.006570)" stroke="#111" stroke-width="36" d="M775 0L565 0L565 1140Q500 1080 400 1020Q300 960 215 925L215 1105Q365 1175 478 1276Q591 1377 638 1466L775 1466Z"/><text x="66.54" y="0">)</text></g><path d="M627.80 292.35H628.70M633.00 292.35H637.00M641.30 292.35H645.30M649.60 292.35H653.60M657.90 292.35H661.90M666.20 292.35H670.20M674.50 292.35H678.50M682.80 292.35H686.80M691.10 292.35H695.10M699.40 292.35H703.40M707.70 292.35H711.70M716.00 292.35H720.00M724.30 292.35H728.30M732.60 292.35H736.60M740.90 292.35H744.90M749.20 292.35H753.20M757.50 292.35H761.50M765.80 292.35H766.95M629.55 365.60H633.55M637.85 365.60H641.85M646.15 365.60H650.15M654.45 365.60H658.45M662.75 365.60H666.75M671.05 365.60H675.05M679.35 365.60H683.35M687.65 365.60H691.65M695.95 365.60H699.95M704.25 365.60H708.25M712.55 365.60H716.55M720.85 365.60H724.85M729.15 365.60H733.15M737.45 365.60H741.45M745.75 365.60H749.75M754.05 365.60H758.05M762.35 365.60H766.35M628.40 292.00V296.00M628.40 300.30V304.30M628.40 308.60V312.60M628.40 316.90V320.90M628.40 325.20V329.20M628.40 333.50V337.50M628.40 341.80V345.80M628.40 350.10V354.10M628.40 358.40V362.40M766.35 291.90V295.90M766.35 300.20V304.20M766.35 308.50V312.50M766.35 316.80V320.80M766.35 325.10V329.10M766.35 333.40V337.40M766.35 341.70V345.70M766.35 350.00V354.00M766.35 358.30V362.30" stroke="#1a1a1a" stroke-width="1.2" fill="none"/><circle cx="640.1" cy="308.0" r="2.45" fill="#141414"/><circle cx="640.1" cy="328.7" r="2.45" fill="#e4261f"/><circle cx="640.1" cy="349.0" r="2.45" fill="#4ba8de"/><g transform="translate(648.90 312.80) scale(1.0000 1.0)"><text x="0.00" y="0">WT,&#160;correct</text></g><g transform="translate(648.90 333.40) scale(1.0000 1.0)"><text x="0.00" y="0">AS,&#160;corrrect</text></g><g transform="translate(648.90 353.70) scale(1.0000 1.0)"><text x="0.00" y="0">Incorrect&#160;(9/</text><path transform="translate(74.69 0) scale(0.006836 -0.006570)" stroke="#111" stroke-width="36" d="M775 0L565 0L565 1140Q500 1080 400 1020Q300 960 215 925L215 1105Q365 1175 478 1276Q591 1377 638 1466L775 1466Z"/><text x="82.48" y="0">69)</text></g>
</svg>
</body></html>
